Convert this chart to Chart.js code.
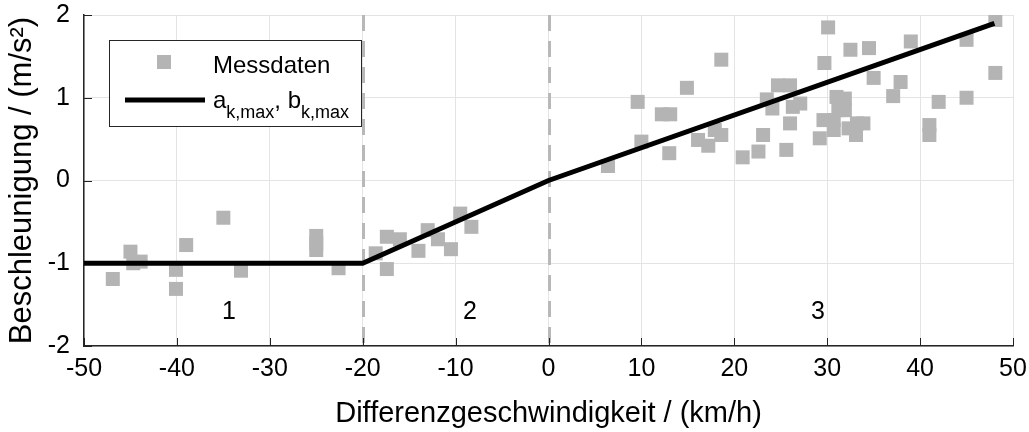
<!DOCTYPE html>
<html>
<head>
<meta charset="utf-8">
<script src="https://cdn.jsdelivr.net/npm/chart.js@4/dist/chart.umd.min.js"></script>
<style>
  html, body { margin: 0; padding: 0; background: #fff; }
  #wrap { width: 1029px; height: 432px; position: relative; }
</style>
</head>
<body>
<div id="wrap"><canvas id="c" width="1029" height="432"></canvas></div>
<script>
// ---- data ----
const messX = [-46.9, -45.0, -44.7, -43.9, -39.0, -40.1, -40.1, -35.0, -33.1, -25.0, -25.0, -25.0, -22.6,
  -17.4, -18.6, -17.4, -16.0, -14.0, -13.0, -11.9, -10.5, -9.5, -8.3,
  6.4, 10.0, 9.6, 12.2, 13.1, 13.0, 14.9, 18.6, 16.1, 17.2, 17.9, 18.6, 20.9, 22.6, 23.1, 25.6, 23.5,
  24.7, 26.0, 24.1, 26.0, 26.3, 27.1, 30.1, 29.7, 32.5, 34.5, 39.0, 35.0, 37.9, 37.1, 31.0, 31.9,
  31.2, 31.9, 29.6, 29.2, 30.7, 30.7, 32.3, 33.1, 33.9, 33.2, 41.0, 41.0, 42.0, 45.0, 45.0, 48.1, 48.1];
const messY = [-1.19, -0.86, -1.0, -0.98, -0.78, -1.08, -1.31, -0.45, -1.09, -0.67, -0.76, -0.84, -1.06,
  -1.07, -0.88, -0.68, -0.71, -0.85, -0.60, -0.71, -0.83, -0.40, -0.56,
  0.175, 0.47, 0.95, 0.80, 0.80, 0.33, 1.12, 1.46, 0.49, 0.42, 0.61, 0.55, 0.28, 0.35, 0.55, 0.37, 0.98,
  1.15, 1.15, 0.87, 0.69, 0.89, 0.93, 1.85, 1.42, 1.58, 1.60, 1.68, 1.24, 1.19, 1.02, 1.01, 0.99,
  0.85, 0.85, 0.73, 0.51, 0.73, 0.61, 0.63, 0.55, 0.69, 0.69, 0.67, 0.55, 0.95, 1.00, 1.70, 1.30, 1.94];
const limitX = [-50, -20, 0, 48];
const limitY = [-1, -1, 0, 1.9];
const xTicks = [-50, -40, -30, -20, -10, 0, 10, 20, 30, 40, 50];
const yTicks = [-2, -1, 0, 1, 2];
const dividerX = [-20, 0];
const regionLabels = ['1', '2', '3'];
const regionX = [-34.4, -8.45, 29.0];
const regionY = -1.59;
const seriesNames = ['Messdaten', 'a', 'k,max', 'b', 'k,max'];
const xTitle = 'Differenzgeschwindigkeit / (km/h)';
const yTitle = 'Beschleunigung / (m/s²)';

const FONT = '"Liberation Sans", Arial, sans-serif';
const GRAY = '#b4b4b4';

const overlay = {
  id: 'overlay',
  beforeDatasetsDraw(chart) {
    const {ctx, chartArea: a, scales: {x, y}} = chart;
    ctx.save();
    ctx.strokeStyle = '#b8b8b8';
    ctx.lineWidth = 3;
    ctx.setLineDash([16, 10]);
    dividerX.forEach(v => {
      const px = Math.round(x.getPixelForValue(v)) + 0.5;
      ctx.beginPath(); ctx.moveTo(px, a.top); ctx.lineTo(px, a.bottom); ctx.stroke();
    });
    ctx.setLineDash([]);
    ctx.strokeStyle = '#222'; ctx.lineWidth = 1;
    xTicks.forEach(v => {
      const px = Math.round(x.getPixelForValue(v)) + 0.5;
      ctx.beginPath(); ctx.moveTo(px, a.bottom); ctx.lineTo(px, a.bottom - 8); ctx.stroke();
    });
    yTicks.forEach(v => {
      const py = Math.round(y.getPixelForValue(v)) + 0.5;
      ctx.beginPath(); ctx.moveTo(a.left, py); ctx.lineTo(a.left + 8, py); ctx.stroke();
    });
    ctx.fillStyle = '#000';
    ctx.font = '25px ' + FONT;
    ctx.textAlign = 'center'; ctx.textBaseline = 'middle';
    regionLabels.forEach((t, i) => {
      ctx.fillText(t, x.getPixelForValue(regionX[i]), y.getPixelForValue(regionY));
    });
    ctx.restore();
  },
  afterDraw(chart) {
    const ctx = chart.ctx;
    const ds0 = chart.data.datasets[0], ds1 = chart.data.datasets[1];
    ctx.save();
    const bx = 109.5, by = 40.5, bw = 252, bh = 86;
    ctx.fillStyle = '#fff';
    ctx.fillRect(bx, by, bw, bh);
    ctx.strokeStyle = '#262626'; ctx.lineWidth = 1;
    ctx.strokeRect(bx, by, bw, bh);
    ctx.fillStyle = ds0.backgroundColor;
    ctx.fillRect(157, 55, 14, 14);
    ctx.fillStyle = '#000';
    ctx.textAlign = 'left'; ctx.textBaseline = 'alphabetic';
    ctx.font = '24px ' + FONT;
    ctx.fillText(seriesNames[0], 213, 73);
    ctx.strokeStyle = ds1.borderColor; ctx.lineWidth = ds1.borderWidth;
    ctx.beginPath(); ctx.moveTo(125, 100); ctx.lineTo(205, 100); ctx.stroke();
    let tx = 213;
    const big = '24px ' + FONT, small = '18px ' + FONT;
    ctx.font = big; ctx.fillText(seriesNames[1], tx, 108); tx += ctx.measureText(seriesNames[1]).width;
    ctx.font = small; ctx.fillText(seriesNames[2], tx, 118); tx += ctx.measureText(seriesNames[2]).width;
    ctx.font = big; const mid = ', ' + seriesNames[3];
    ctx.fillText(mid, tx, 108); tx += ctx.measureText(mid).width;
    ctx.font = small; ctx.fillText(seriesNames[4], tx, 118);
    ctx.restore();
  }
};

const scatterData = messX.map((v, i) => ({x: v, y: messY[i]}));
const lineData = limitX.map((v, i) => ({x: v, y: limitY[i]}));

new Chart(document.getElementById('c'), {
  type: 'scatter',
  data: {
    datasets: [
      {label: seriesNames[0], data: scatterData, pointStyle: 'rect', pointRadius: 9.9,
       backgroundColor: GRAY, borderWidth: 0, order: 2},
      {label: 'a,b', type: 'line', data: lineData, borderColor: '#000', borderWidth: 5,
       pointRadius: 0, fill: false, tension: 0, order: 1}
    ]
  },
  options: {
    responsive: false,
    animation: false,
    layout: {padding: {top: 15, right: 16, left: 0, bottom: 0}},
    plugins: {legend: {display: false}, tooltip: {enabled: false}},
    scales: {
      x: {
        type: 'linear', min: -50, max: 50,
        afterBuildTicks: s => { s.ticks = xTicks.map(v => ({value: v})); },
        afterFit: s => { s.height = 86; s.paddingLeft = 0; s.paddingRight = 0; },
        grid: {color: '#e4e4e4', lineWidth: 1, drawTicks: false},
        border: {color: '#262626', width: 1.5},
        ticks: {font: {family: FONT, size: 25}, color: '#000', padding: 8, maxRotation: 0},
        title: {display: true, text: xTitle, font: {family: FONT, size: 29}, color: '#000',
                padding: {top: 0, bottom: 1}}
      },
      y: {
        type: 'linear', min: -2, max: 2,
        afterBuildTicks: s => { s.ticks = yTicks.map(v => ({value: v})); },
        afterFit: s => { s.width = 84; s.paddingTop = 0; s.paddingBottom = 0; },
        grid: {color: '#e4e4e4', lineWidth: 1, drawTicks: false},
        border: {color: '#262626', width: 1.5},
        ticks: {font: {family: FONT, size: 25}, color: '#000', padding: 14},
        title: {display: true, text: yTitle, font: {family: FONT, size: 31}, color: '#000',
                padding: {top: 4, bottom: 0}}
      }
    }
  },
  plugins: [overlay]
});
</script>
</body>
</html>
